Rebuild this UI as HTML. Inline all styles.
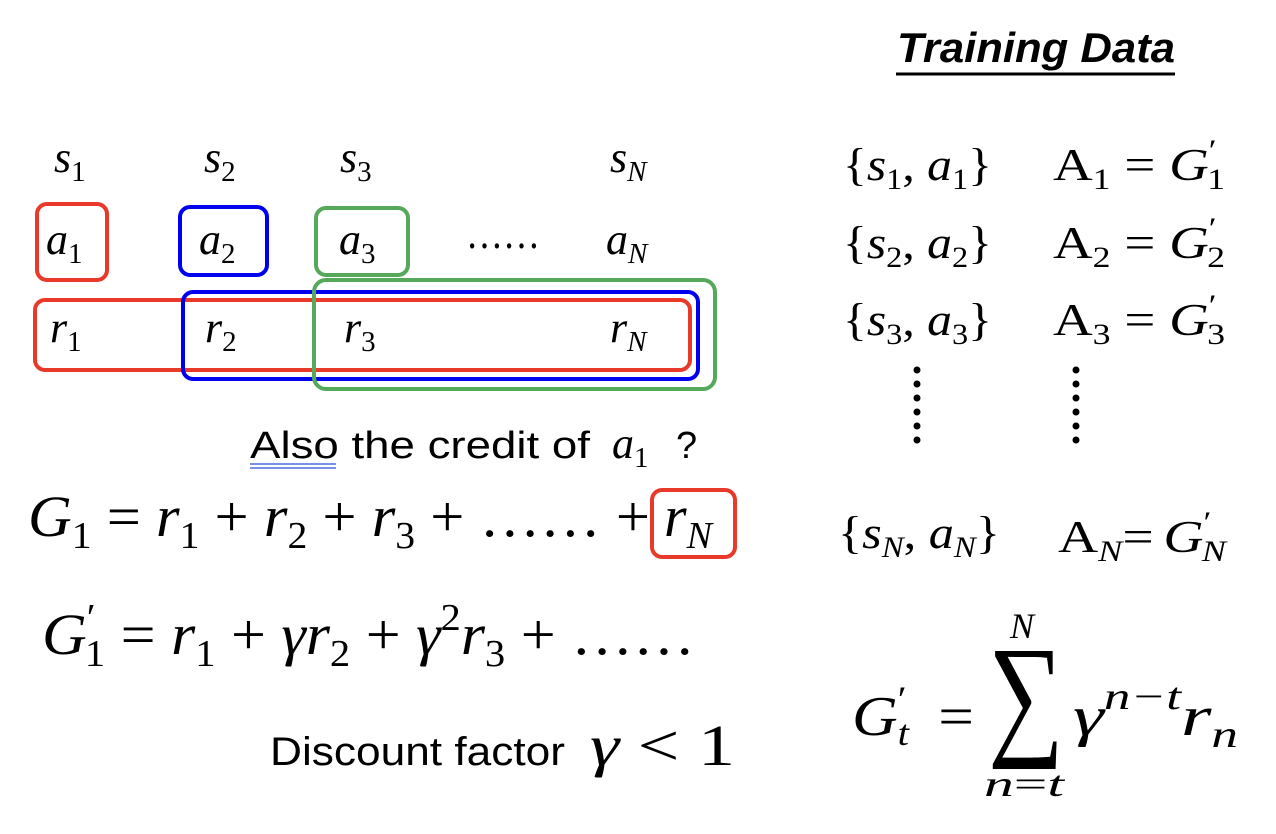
<!DOCTYPE html>
<html><head><meta charset="utf-8"><style>
html,body{margin:0;padding:0;background:#fff}
svg{display:block}
.m{font-family:"Liberation Serif",serif;font-style:italic}
.u{font-family:"Liberation Serif",serif}
.s{font-family:"Liberation Sans",sans-serif}
</style></head><body>
<svg width="1276" height="834" viewBox="0 0 1276 834" xmlns="http://www.w3.org/2000/svg">
<g font-size="44" class="m" fill="#000">
<text x="54" y="172">s<tspan font-size="29" font-style="normal" dy="9">1</tspan></text>
<text x="204" y="172">s<tspan font-size="29" font-style="normal" dy="9">2</tspan></text>
<text x="340" y="172">s<tspan font-size="29" font-style="normal" dy="9">3</tspan></text>
<text x="610" y="172">s<tspan font-size="29" dy="9">N</tspan></text>

<text x="46" y="254">a<tspan font-size="29" font-style="normal" dy="9">1</tspan></text>
<text x="199" y="254">a<tspan font-size="29" font-style="normal" dy="9">2</tspan></text>
<text x="339" y="254">a<tspan font-size="29" font-style="normal" dy="9">3</tspan></text>
<text x="466" y="248" class="u" font-style="normal" textLength="74" lengthAdjust="spacingAndGlyphs">……</text>
<text x="606" y="254">a<tspan font-size="29" dy="9">N</tspan></text>

<text x="50" y="342">r<tspan font-size="29" font-style="normal" dy="9">1</tspan></text>
<text x="205" y="342">r<tspan font-size="29" font-style="normal" dy="9">2</tspan></text>
<text x="344" y="342">r<tspan font-size="29" font-style="normal" dy="9">3</tspan></text>
<text x="610" y="342">r<tspan font-size="29" dy="9">N</tspan></text>
</g>
<g fill="none" stroke-width="4">
<rect x="37" y="204" width="70" height="76" rx="10" stroke="#e8392b"/>
<rect x="180" y="207" width="87" height="68" rx="10" stroke="#0000f0"/>
<rect x="316" y="208" width="92" height="67" rx="10" stroke="#56a85a"/>
<rect x="35" y="300" width="655" height="70" rx="10" stroke="#e8392b"/>
<rect x="183" y="292" width="515" height="87" rx="10" stroke="#0000f0"/>
<rect x="314" y="280" width="401" height="109" rx="12" stroke="#56a85a"/>
<rect x="652" y="490" width="83" height="67" rx="10" stroke="#e8392b"/>
</g>
<text x="250" y="458" font-size="38" class="s" textLength="340" lengthAdjust="spacingAndGlyphs">Also the credit of</text>
<text x="612" y="458" font-size="44" class="m">a<tspan font-size="29" font-style="normal" dy="9">1</tspan></text>
<text x="676" y="458" font-size="38" class="s">?</text>
<line x1="250" y1="464" x2="336" y2="464" stroke="#4a6fe0" stroke-width="1.5"/>
<line x1="250" y1="468" x2="336" y2="468" stroke="#4a6fe0" stroke-width="1.5"/>

<text x="28" y="536" font-size="58" class="m" textLength="622" lengthAdjust="spacingAndGlyphs">G<tspan font-size="38" font-style="normal" dy="12">1</tspan><tspan font-style="normal" dy="-12"> = </tspan>r<tspan font-size="38" font-style="normal" dy="12">1</tspan><tspan font-style="normal" dy="-12"> + </tspan>r<tspan font-size="38" font-style="normal" dy="12">2</tspan><tspan font-style="normal" dy="-12"> + </tspan>r<tspan font-size="38" font-style="normal" dy="12">3</tspan><tspan font-style="normal" dy="-12"> + …… +</tspan></text>
<text x="664" y="536" font-size="58" class="m">r<tspan font-size="38" dy="12">N</tspan></text>

<text x="42" y="654" font-size="58" class="m" textLength="653" lengthAdjust="spacingAndGlyphs">G<tspan font-size="38" font-style="normal" dy="-24">′</tspan><tspan font-size="38" font-style="normal" dx="-10" dy="36">1</tspan><tspan font-style="normal" dy="-12"> = </tspan>r<tspan font-size="38" font-style="normal" dy="12">1</tspan><tspan font-style="normal" dy="-12"> + </tspan>γr<tspan font-size="38" font-style="normal" dy="12">2</tspan><tspan font-style="normal" dy="-12"> + </tspan>γ<tspan font-size="38" font-style="normal" dy="-24">2</tspan><tspan dy="24">r</tspan><tspan font-size="38" font-style="normal" dy="12">3</tspan><tspan font-style="normal" dy="-12"> + ……</tspan></text>

<text x="270" y="765" font-size="40" class="s" textLength="295" lengthAdjust="spacingAndGlyphs">Discount factor</text>
<text x="590" y="765" font-size="58" class="m" textLength="145" lengthAdjust="spacingAndGlyphs">γ<tspan font-style="normal"> &lt; 1</tspan></text>

<text x="897" y="62" font-size="42" font-weight="bold" font-style="italic" class="s" textLength="278" lengthAdjust="spacingAndGlyphs">Training Data</text>
<line x1="896" y1="74" x2="1175" y2="74" stroke="#000" stroke-width="3"/>

<g font-size="46" class="m">
<text x="843" y="180" textLength="149" lengthAdjust="spacingAndGlyphs"><tspan font-style="normal">{</tspan>s<tspan font-size="30" font-style="normal" dy="9">1</tspan><tspan dy="-9" font-style="normal">, </tspan>a<tspan font-size="30" font-style="normal" dy="9">1</tspan><tspan dy="-9" font-style="normal">}</tspan></text>
<text x="843" y="258" textLength="149" lengthAdjust="spacingAndGlyphs"><tspan font-style="normal">{</tspan>s<tspan font-size="30" font-style="normal" dy="9">2</tspan><tspan dy="-9" font-style="normal">, </tspan>a<tspan font-size="30" font-style="normal" dy="9">2</tspan><tspan dy="-9" font-style="normal">}</tspan></text>
<text x="843" y="335" textLength="149" lengthAdjust="spacingAndGlyphs"><tspan font-style="normal">{</tspan>s<tspan font-size="30" font-style="normal" dy="9">3</tspan><tspan dy="-9" font-style="normal">, </tspan>a<tspan font-size="30" font-style="normal" dy="9">3</tspan><tspan dy="-9" font-style="normal">}</tspan></text>
<text x="838" y="548" textLength="162" lengthAdjust="spacingAndGlyphs"><tspan font-style="normal">{</tspan>s<tspan font-size="30" dy="9">N</tspan><tspan dy="-9" font-style="normal">, </tspan>a<tspan font-size="30" dy="9">N</tspan><tspan dy="-9" font-style="normal">}</tspan></text>

<text x="1053" y="180" textLength="172" lengthAdjust="spacingAndGlyphs"><tspan font-style="normal">A</tspan><tspan font-size="30" font-style="normal" dy="9">1</tspan><tspan dy="-9" font-style="normal">  =  </tspan>G<tspan font-size="30" font-style="normal" dy="-20">′</tspan><tspan font-size="30" font-style="normal" dx="-8" dy="29">1</tspan></text>
<text x="1053" y="258" textLength="172" lengthAdjust="spacingAndGlyphs"><tspan font-style="normal">A</tspan><tspan font-size="30" font-style="normal" dy="9">2</tspan><tspan dy="-9" font-style="normal">  =  </tspan>G<tspan font-size="30" font-style="normal" dy="-20">′</tspan><tspan font-size="30" font-style="normal" dx="-8" dy="29">2</tspan></text>
<text x="1053" y="335" textLength="172" lengthAdjust="spacingAndGlyphs"><tspan font-style="normal">A</tspan><tspan font-size="30" font-style="normal" dy="9">3</tspan><tspan dy="-9" font-style="normal">  =  </tspan>G<tspan font-size="30" font-style="normal" dy="-20">′</tspan><tspan font-size="30" font-style="normal" dx="-8" dy="29">3</tspan></text>
<text x="1058" y="552" textLength="168" lengthAdjust="spacingAndGlyphs"><tspan font-style="normal">A</tspan><tspan font-size="30" dy="9">N</tspan><tspan dy="-9" font-style="normal">=</tspan><tspan dx="8">G</tspan><tspan font-size="30" font-style="normal" dy="-20">′</tspan><tspan font-size="30" dx="-8" dy="29">N</tspan></text>
</g>
<g fill="#000">
<circle cx="917" cy="370" r="3.5"/><circle cx="917" cy="384" r="3.5"/><circle cx="917" cy="398" r="3.5"/><circle cx="917" cy="412" r="3.5"/><circle cx="917" cy="426" r="3.5"/><circle cx="917" cy="440" r="3.5"/>
<circle cx="1076" cy="370" r="3.5"/><circle cx="1076" cy="384" r="3.5"/><circle cx="1076" cy="398" r="3.5"/><circle cx="1076" cy="412" r="3.5"/><circle cx="1076" cy="426" r="3.5"/><circle cx="1076" cy="440" r="3.5"/>
</g>

<text x="852" y="735" font-size="56" class="m" textLength="122" lengthAdjust="spacingAndGlyphs">G<tspan font-size="36" font-style="normal" dy="-24">′</tspan><tspan font-size="36" dx="-8" dy="34">t</tspan><tspan font-style="normal" dy="-10" dx="12"> =</tspan></text>
<text x="988" y="740" font-size="136" class="u" textLength="76" lengthAdjust="spacingAndGlyphs">∑</text>
<text x="1010" y="638" font-size="36" class="m">N</text>
<text x="984" y="796" font-size="36" class="m" textLength="80" lengthAdjust="spacingAndGlyphs">n<tspan font-style="normal">=</tspan>t</text>
<text x="1073" y="735" font-size="56" class="m" textLength="165" lengthAdjust="spacingAndGlyphs">γ<tspan font-size="38" dy="-26">n−t</tspan><tspan dy="26">r</tspan><tspan font-size="38" dy="12">n</tspan></text>
</svg>
</body></html>
